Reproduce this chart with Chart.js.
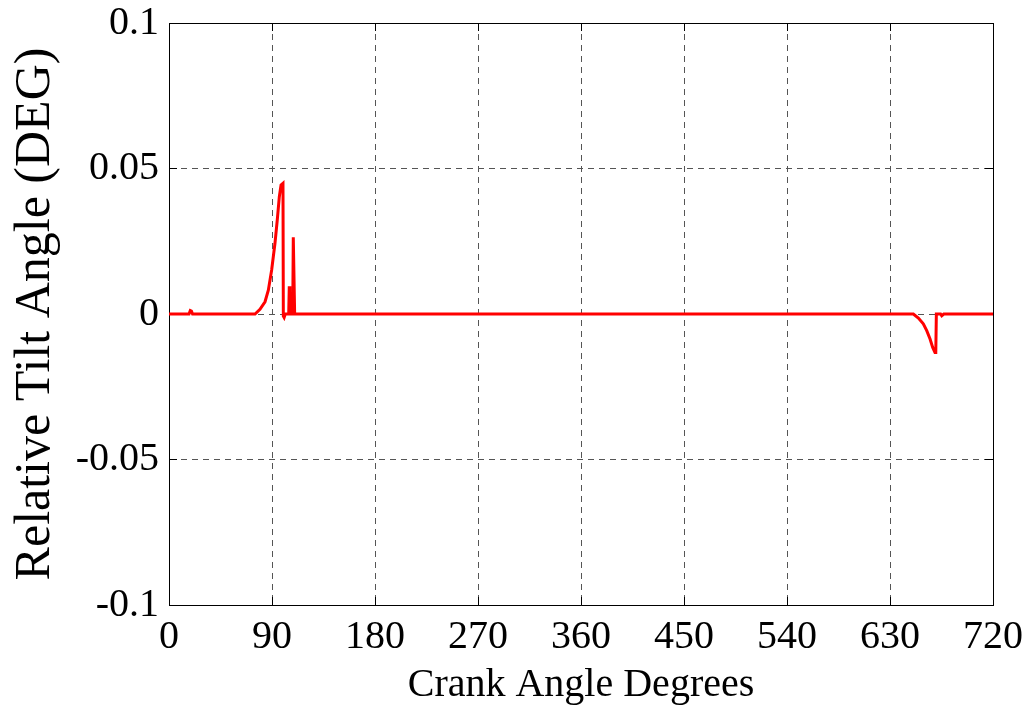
<!DOCTYPE html>
<html>
<head>
<meta charset="utf-8">
<script src="https://cdn.jsdelivr.net/npm/chart.js@4.4.0/dist/chart.umd.min.js"></script>
<style>
  html, body { margin: 0; padding: 0; background: #fff; }
  #wrap { width: 1036px; height: 706px; }
</style>
</head>
<body>
<div id="wrap"><canvas id="tilt" width="1036" height="706"></canvas></div>
<script>
// crank angle (deg) and relative tilt angle (deg)
const crankAngle = [0, 17.5, 18.6, 19.6, 20.6, 75.2, 79.5, 83.9, 86.8, 89.7, 92.6, 94.6, 96.4, 97.9, 99.6,
  99.9, 100.6, 101.6, 104.6, 105.1, 105.6, 108.1, 108.6, 109.1, 109.8,
  650.4, 654.8, 659.1, 662.1, 665.0, 667.3, 669.3, 670.0, 670.5, 674.2, 675.2, 677.0, 720];
const tiltAngle = [0, 0, 0.0012, 0.001, 0, 0, 0.0016, 0.0042, 0.0082, 0.0151, 0.0243, 0.0323, 0.0403, 0.0443, 0.0449,
  -0.0007, -0.0012, 0, 0, 0.0095, 0, 0, 0.0264, 0.0264, 0,
  0, -0.0014, -0.0034, -0.0057, -0.0086, -0.0115, -0.0132, -0.0132, 0, 0, -0.0006, 0, 0];

const xTicks = [0, 90, 180, 270, 360, 450, 540, 630, 720];
const yTicks = [-0.1, -0.05, 0, 0.05, 0.1];
const yTickLabels = ['-0.1', '-0.05', '0', '0.05', '0.1'];

const serif = '"Liberation Serif", "Times New Roman", serif';
const gridColor = '#555';

const points = crankAngle.map((a, i) => ({ x: a, y: tiltAngle[i] }));

function setTicks(list) {
  return (scale) => { scale.ticks = list.map(v => ({ value: v })); };
}

// fixed axis box sizes, no extra room asked for the end labels
function fixSize(w, h) {
  return (s) => {
    if (w !== null) s.width = w;
    if (h !== null) s.height = h;
    s.paddingTop = 0; s.paddingBottom = 0; s.paddingLeft = 0; s.paddingRight = 0;
  };
}

// frame axes (top / right) only carry the box edge and the inward tick marks
function frameAxis(pos, list, min, max) {
  return {
    type: 'linear', position: pos, min: min, max: max,
    afterBuildTicks: setTicks(list),
    afterFit: pos === 'top' ? fixSize(null, 0) : fixSize(0, null),
    ticks: { display: false },
    grid: { display: true, drawOnChartArea: false, drawTicks: true, tickLength: -8,
            tickColor: '#000', tickWidth: 1 },
    border: { display: true, color: '#000', width: 1 }
  };
}

new Chart(document.getElementById('tilt'), {
  type: 'scatter',
  data: {
    datasets: [{
      data: points,
      showLine: true,
      borderColor: '#ff0000',
      backgroundColor: '#ff0000',
      borderWidth: 3,
      pointRadius: 0,
      tension: 0
    }]
  },
  options: {
    responsive: false,
    devicePixelRatio: 1,
    animation: false,
    layout: { padding: { top: 23, right: 43, left: 0, bottom: 0 } },
    plugins: { legend: { display: false }, tooltip: { enabled: false } },
    scales: {
      x: {
        type: 'linear', position: 'bottom', min: 0, max: 720,
        afterBuildTicks: setTicks(xTicks),
        afterFit: fixSize(null, 101),
        ticks: { color: '#000', font: { family: serif, size: 40 }, padding: 16,
                 maxRotation: 0, autoSkip: false, callback: (v) => String(v) },
        grid: { color: gridColor, lineWidth: 1, drawTicks: true, tickLength: -8,
                tickColor: '#000', tickWidth: 1 },
        border: { display: true, color: '#000', width: 1, dash: [6, 5] },
        title: { display: true, text: 'Crank Angle Degrees', color: '#000',
                 font: { family: serif, size: 40, lineHeight: 1 }, padding: { top: 0, bottom: 1 } }
      },
      y: {
        type: 'linear', position: 'left', min: -0.1, max: 0.1,
        afterBuildTicks: setTicks(yTicks),
        afterFit: fixSize(169, null),
        ticks: { color: '#000', font: { family: serif, size: 40 }, padding: 18,
                 callback: (v) => yTickLabels[yTicks.indexOf(v)] },
        grid: { color: gridColor, lineWidth: 1, drawTicks: true, tickLength: -8,
                tickColor: '#000', tickWidth: 1 },
        border: { display: true, color: '#000', width: 1, dash: [6, 5] },
        title: { display: true, text: 'Relative Tilt Angle (DEG)', color: '#000',
                 font: { family: serif, size: 50, lineHeight: 1 }, padding: { top: 11, bottom: 0 } }
      },
      x2: frameAxis('top', xTicks, 0, 720),
      y2: frameAxis('right', yTicks, -0.1, 0.1)
    }
  }
});
</script>
</body>
</html>
